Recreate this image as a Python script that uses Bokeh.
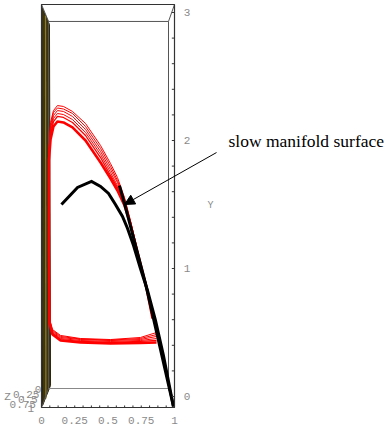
from bokeh.plotting import figure
from bokeh.models import Range1d, Arrow, NormalHead
from bokeh.core.properties import value
from bokeh.embed import file_html
from bokeh.resources import INLINE

# ---- data (projected chart units: horizontal x in [0,1], vertical Y in [0,3]) ----
x_ticks = [0, 0.25, 0.5, 0.75, 1]
x_tick_labels = ["0", "0.25", "0.5", "0.75", "1"]
y_ticks = [0, 1, 2, 3]
y_tick_labels = ["0", "1", "2", "3"]
z_ticks = [0, 0.25, 0.5, 0.75, 1]
z_tick_labels = ["0", "0.25", "0.5", "0.75", "1"]

# box corners (front face and back face)
front_x = [0, 1]
front_y = [-0.086, 3.0625]
back_x = [0.053, 0.955]
back_y = [0.0625, 2.93]

# olive surface seen edge-on along the left wall
surf_x = [0.0, 0.060, 0.068, 0.008]
surf_y = [3.047, 2.906, 0.086, -0.070]
surf_line_x = [0.030, 0.033]
surf_line_y = [2.977, -0.016]

# red trajectories (shared x, one Y series per trajectory)
red_x = [0.865, 0.744, 0.519, 0.293, 0.143, 0.083, 0.060, 0.056, 0.056, 0.068, 0.090,
         0.120, 0.165, 0.233, 0.331, 0.444, 0.519, 0.571, 0.624, 0.669, 0.722, 0.789, 0.835]
red_y1 = [0.500, 0.461, 0.445, 0.453, 0.477, 0.523, 0.609, 1.141, 1.922, 2.141, 2.234,
          2.273, 2.266, 2.227, 2.133, 1.961, 1.820, 1.711, 1.555, 1.375, 1.141, 0.867, 0.609]
red_y2 = [0.484, 0.453, 0.441, 0.449, 0.469, 0.516, 0.602, 1.141, 1.906, 2.117, 2.219,
          2.254, 2.246, 2.211, 2.109, 1.938, 1.797, 1.688, 1.547, 1.367, 1.141, 0.867, 0.609]
red_y3 = [0.469, 0.445, 0.4375, 0.445, 0.461, 0.508, 0.594, 1.141, 1.891, 2.094, 2.195,
          2.234, 2.227, 2.188, 2.086, 1.914, 1.773, 1.672, 1.531, 1.367, 1.133, 0.859, 0.609]
red_y4 = [0.453, 0.4375, 0.430, 0.4375, 0.453, 0.500, 0.586, 1.141, 1.875, 2.070, 2.172,
          2.211, 2.203, 2.164, 2.063, 1.891, 1.750, 1.648, 1.523, 1.359, 1.133, 0.859, 0.609]
red_y5 = [0.4375, 0.430, 0.422, 0.430, 0.445, 0.492, 0.578, 1.141, 1.859, 2.047, 2.148,
          2.188, 2.180, 2.141, 2.039, 1.867, 1.727, 1.633, 1.508, 1.352, 1.125, 0.852, 0.609]
red_y6 = [0.422, 0.418, 0.414, 0.422, 0.4375, 0.484, 0.570, 1.141, 1.844, 2.008, 2.109,
          2.148, 2.141, 2.102, 2.000, 1.828, 1.703, 1.609, 1.492, 1.344, 1.125, 0.852, 0.609]

# black trajectory and slow manifold (edge-on)
traj_x = [0.150, 0.271, 0.376, 0.444, 0.504, 0.556, 0.609, 0.647, 0.692, 0.744, 0.797,
          0.857, 0.917, 0.992]
traj_y = [1.500, 1.633, 1.680, 1.641, 1.586, 1.500, 1.406, 1.3125, 1.180, 1.000, 0.828,
          0.594, 0.320, -0.078]
manifold_x = [0.586, 0.624, 0.782, 0.992]
manifold_y = [1.648, 1.508, 0.883, -0.078]

annotation_text = "slow manifold surface"
annotation_pos = (1.406, 2.0)
arrow_start = (1.316, 1.906)
arrow_end = (0.624, 1.500)
y_label_pos = (1.271, 1.492)

# ---- figure ----
p = figure(width=388, height=434, output_backend="svg", toolbar_location=None,
           x_range=Range1d(-0.30827, 2.60902), y_range=Range1d(-0.296875, 3.09375),
           x_axis_location=None, y_axis_location=None, min_border=0)
p.grid.visible = False
p.outline_line_color = None
p.background_fill_color = "white"

mono = value("Liberation Mono")
grey = "#8a8a8a"
edge = "#555555"

# olive surface
p.patch(surf_x, surf_y, fill_color="#3d3512", line_color="#2a2408", line_width=1)
p.line(surf_line_x, surf_line_y, line_color="#8c7a2a", line_width=1.2)

# back face
p.line([back_x[0], back_x[1], back_x[1]], [back_y[1], back_y[1], back_y[0]], line_color=edge, line_width=1)
p.line([back_x[0], back_x[0]], [back_y[1], back_y[0]], line_color=edge, line_width=1)
p.line([back_x[0], back_x[1]], [back_y[0], back_y[0]], line_color="#888888", line_width=1)
# connecting edges
for fx, bx in zip(front_x, back_x):
    for fy, by in zip(front_y, back_y):
        p.line([fx, bx], [fy, by], line_color=edge, line_width=1)

# red trajectories
for ys, w in [(red_y1, 1), (red_y2, 1), (red_y3, 1), (red_y4, 1), (red_y5, 1.3), (red_y6, 2.6)]:
    p.line(red_x, ys, line_color="#ff0000", line_width=w)

# black curves
p.line(manifold_x, manifold_y, line_color="black", line_width=3)
p.line(traj_x, traj_y, line_color="black", line_width=3, line_join="miter")

# front face
p.line([front_x[0], front_x[1], front_x[1], front_x[0], front_x[0]],
       [front_y[0], front_y[0], front_y[1], front_y[1], front_y[0]], line_color="#333333", line_width=1.2)

# x axis ticks (bottom front edge)
minor_x = [i / 16 for i in range(17)]
p.segment(x0=minor_x, y0=[front_y[0]] * 17, x1=minor_x, y1=[front_y[0] + 0.016] * 17,
          line_color="#333333", line_width=1)
p.text(x=x_ticks, y=[-0.1875] * 5, text=x_tick_labels, text_font=mono, text_font_size="11px",
       text_color=grey, text_align="center", text_baseline="middle")

# Y axis ticks (front right edge)
minor_y = [i * 0.2 for i in range(16)]
p.segment(x0=[1] * 16, y0=minor_y, x1=[1 - 0.02] * 16, y1=minor_y, line_color="#333333", line_width=1)
p.text(x=[1.07] * 4, y=y_ticks, text=y_tick_labels, text_font=mono, text_font_size="11px",
       text_color=grey, text_align="left", text_baseline="middle")
p.text(x=[y_label_pos[0]], y=[y_label_pos[1]], text=["Y"], text_font=mono, text_font_size="10px",
       text_color=grey, text_align="center", text_baseline="middle")

# Z axis labels along the lower-left depth edge
zx = [back_x[0] + z * (front_x[0] - back_x[0]) - 0.055 for z in z_ticks]
zy = [back_y[0] + z * (front_y[0] - back_y[0]) - 0.01 for z in z_ticks]
p.text(x=zx, y=zy, text=z_tick_labels, text_font=mono, text_font_size="11px",
       text_color=grey, text_align="right", text_baseline="middle")
p.text(x=[-0.255], y=[0.0], text=["Z"], text_font=mono, text_font_size="11px",
       text_color=grey, text_align="center", text_baseline="middle")

# annotation
p.text(x=[annotation_pos[0]], y=[annotation_pos[1]], text=[annotation_text],
       text_font=value("Liberation Serif"), text_font_size="17.5px", text_color="black",
       text_align="left", text_baseline="middle")
p.add_layout(Arrow(end=NormalHead(size=10, fill_color="black", line_color="black"),
                   x_start=arrow_start[0], y_start=arrow_start[1],
                   x_end=arrow_end[0], y_end=arrow_end[1], line_color="black", line_width=1))

open("out.html", "w").write(file_html(p, INLINE))
